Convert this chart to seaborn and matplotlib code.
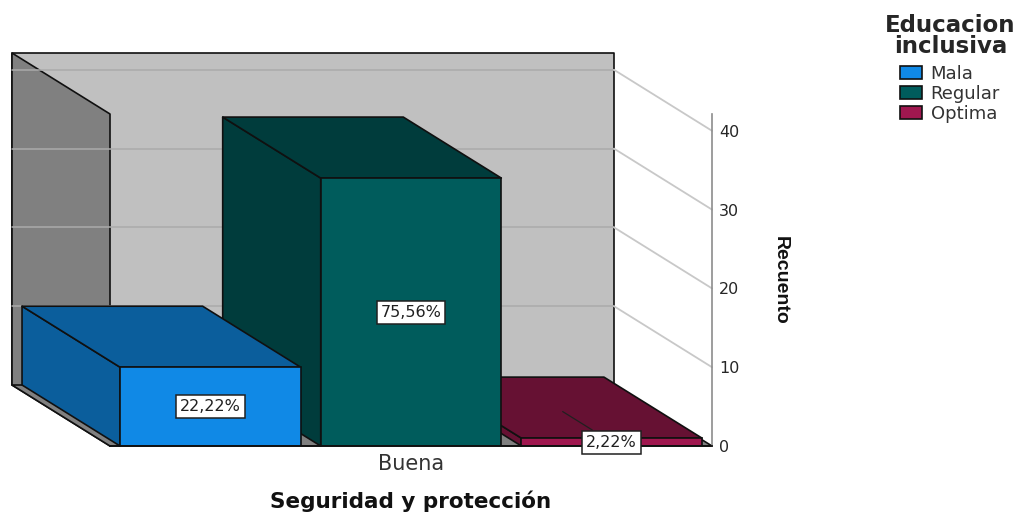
"""Barras 3D estilo SPSS: Seguridad y proteccion por Educacion inclusiva."""
import pandas as pd
import matplotlib.pyplot as plt
from matplotlib.patches import Polygon
import seaborn as sns

sns.set_theme(style="white")
plt.rcParams["font.family"] = ["DejaVu Sans"]

CATEGORIA = ["Buena", "Buena", "Buena"]
NIVELES = ["Mala", "Regular", "Optima"]
RECUENTOS = [10, 34, 1]
PORCENTAJES = ["22,22%", "75,56%", "2,22%"]
TICKS = [0, 10, 20, 30, 40]

COLORES = {"Mala": "#1089E6", "Regular": "#005C5C", "Optima": "#A0174F"}
OSCUROS = {"Mala": "#0B5E9C", "Regular": "#003C3C", "Optima": "#661133"}

W, H = 1026, 512
# front plane in pixels
X0, X1, Y0 = 110, 712, 446
PX_POR_UNIDAD = 7.88
YMAX = 332 / PX_POR_UNIDAD
# depth of the 3D box, in data units
DX = -98 / (X1 - X0)
DY = 61 / PX_POR_UNIDAD


def cara(ax, pts, color, z, lw=1.2):
    ax.add_patch(Polygon(pts, closed=True, facecolor=color, edgecolor="#101010",
                         linewidth=lw, zorder=z, clip_on=False, joinstyle="round"))


def main():
    df = pd.DataFrame({"Seguridad": CATEGORIA, "Educacion": NIVELES, "Recuento": RECUENTOS})

    fig = plt.figure(figsize=(W / 100, H / 100), dpi=100)
    ax = fig.add_axes([X0 / W, 1 - Y0 / H, (X1 - X0) / W, YMAX * PX_POR_UNIDAD / H])
    ax.patch.set_visible(False)

    sns.barplot(data=df, x="Seguridad", y="Recuento", hue="Educacion",
                hue_order=NIVELES, palette=COLORES, width=1.0, gap=0.1, saturation=1,
                edgecolor="#101010", linewidth=1.2, ax=ax)
    ax.set_xlim(-0.5, 0.5)
    ax.set_ylim(0, YMAX)

    # walls and floor
    xa, xb = ax.get_xlim()
    cara(ax, [(xa + DX, DY), (xb + DX, DY), (xb + DX, YMAX + DY), (xa + DX, YMAX + DY)], "#C0C0C0", 0.5)
    cara(ax, [(xa + DX, DY), (xa, 0), (xa, YMAX), (xa + DX, YMAX + DY)], "#808080", 0.6)
    cara(ax, [(xa, 0), (xb, 0), (xb + DX, DY), (xa + DX, DY)], "#808080", 0.6)

    # grid on the back wall and its diagonal on the open side
    for t in TICKS[1:]:
        ax.plot([xa + DX, xb + DX], [t + DY, t + DY], color="#ABABAB", lw=1.1, zorder=0.8, clip_on=False)
        ax.plot([xb + DX, xb], [t + DY, t], color="#C8C8C8", lw=1.3, zorder=0.8, clip_on=False)

    # side and top faces, painted right to left
    bars = sorted(ax.containers, key=lambda c: c[0].get_x())
    for i, (cont, nivel) in enumerate(zip(bars, NIVELES)):
        b = cont[0]
        z = 5 - i
        x, w, h = b.get_x(), b.get_width(), b.get_height()
        b.set_zorder(z + 0.2)
        cara(ax, [(x, 0), (x, h), (x + DX, h + DY), (x + DX, DY)], OSCUROS[nivel], z)
        cara(ax, [(x, h), (x + w, h), (x + w + DX, h + DY), (x + DX, h + DY)], OSCUROS[nivel], z)

    # value labels: the small bar gets a leader from the box centre
    caja = dict(boxstyle="square,pad=0.25", facecolor="white", edgecolor="#202020", linewidth=1.1)
    for cont, pct, v in zip(bars, PORCENTAJES, RECUENTOS):
        b = cont[0]
        cx = b.get_x() + b.get_width() / 2
        if v > 2:
            ax.text(cx, v / 2, pct, ha="center", va="center", fontsize=11.5,
                    color="#202020", bbox=caja, zorder=12)
        else:
            ax.annotate(pct, xy=(cx + DX / 2, (v + DY) / 2), xytext=(cx, v / 2),
                        ha="center", va="center", fontsize=11.5, color="#202020", bbox=caja,
                        arrowprops=dict(arrowstyle="-", color="#202020", lw=0.9, shrinkA=0, shrinkB=0),
                        zorder=12, annotation_clip=False)

    # axes
    for s in ("top", "left"):
        ax.spines[s].set_visible(False)
    ax.spines["right"].set_color("#8C8C8C")
    ax.spines["right"].set_linewidth(1.2)
    ax.spines["right"].set_zorder(9)
    ax.spines["bottom"].set_color("#101010")
    ax.spines["bottom"].set_zorder(9)
    ax.yaxis.tick_right()
    ax.yaxis.set_label_position("right")
    ax.set_yticks(TICKS)
    ax.tick_params(axis="y", length=0, labelsize=11.5, labelcolor="#262626", pad=5)
    ax.tick_params(axis="x", length=0, labelsize=15, labelcolor="#333333", pad=6)

    ax.set_xlabel("Seguridad y protección", fontsize=15.5, fontweight="bold",
                  color="#111111", labelpad=12)
    ax.set_ylabel("")
    fig.text(780 / W, 1 - 280 / H, "Recuento", rotation=-90, ha="center", va="center",
             fontsize=14, fontweight="bold", family="Liberation Sans", color="#111111")

    sns.move_legend(ax, "upper left", bbox_to_anchor=(885 / W, 1 - 14 / H),
                    bbox_transform=fig.transFigure, frameon=False,
                    title="Educacion\ninclusiva", fontsize=13, labelcolor="#333333",
                    labelspacing=0.1, handlelength=1.17, handleheight=0.72, handletextpad=0.5,
                    borderpad=0, borderaxespad=0, alignment="center",
                    title_fontproperties={"weight": "bold", "size": 16.5})
    ley = ax.get_legend()
    ley.get_title().set_multialignment("center")
    ley.get_title().set_linespacing(0.9)
    ley._legend_box.sep = 5  # room between the title and the entries

    fig.savefig("out.png", dpi=100)
    plt.close(fig)


if __name__ == "__main__":
    main()
